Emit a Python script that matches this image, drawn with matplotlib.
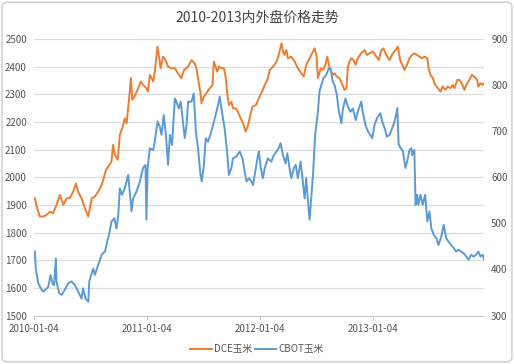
import matplotlib
matplotlib.use("Agg")
import matplotlib.pyplot as plt
from matplotlib.patches import FancyBboxPatch
import pandas as pd

plt.rcParams["font.family"] = ["Noto Sans CJK SC", "DejaVu Sans"]

TITLE = "2010-2013内外盘价格走势"
X_TICKS = ["2010-01-04", "2011-01-04", "2012-01-04", "2013-01-04"]
LEFT_TICKS = list(range(1500, 2501, 100))
RIGHT_TICKS = list(range(300, 901, 100))

# DCE corn (left axis)
dce_dates = [
    "2010-01-07", "2010-01-13", "2010-01-23", "2010-02-03", "2010-02-14", "2010-02-25",
    "2010-03-07", "2010-03-18", "2010-03-29", "2010-04-09", "2010-04-20", "2010-04-30",
    "2010-05-11", "2010-05-20", "2010-05-27", "2010-06-07", "2010-06-18", "2010-06-29",
    "2010-07-10", "2010-07-20", "2010-07-31", "2010-08-11", "2010-08-16", "2010-08-25",
    "2010-09-01", "2010-09-12", "2010-09-17", "2010-09-23", "2010-10-02", "2010-10-09",
    "2010-10-20", "2010-10-25", "2010-10-31", "2010-11-07", "2010-11-14", "2010-11-18",
    "2010-11-26", "2010-12-07", "2010-12-16", "2010-12-23", "2011-01-03", "2011-01-08",
    "2011-01-14", "2011-01-25", "2011-01-30", "2011-02-08", "2011-02-12", "2011-02-18",
    "2011-02-26", "2011-03-06", "2011-03-14", "2011-03-25", "2011-04-05", "2011-04-15",
    "2011-04-26", "2011-05-05", "2011-05-18", "2011-05-29", "2011-06-08", "2011-06-14",
    "2011-06-19", "2011-06-27", "2011-06-30", "2011-07-08", "2011-07-16", "2011-07-27",
    "2011-08-05", "2011-08-09", "2011-08-15", "2011-08-20", "2011-08-26", "2011-09-03",
    "2011-09-11", "2011-09-17", "2011-09-22", "2011-09-27", "2011-10-05", "2011-10-10",
    "2011-10-19", "2011-10-26", "2011-11-04", "2011-11-12", "2011-11-20", "2011-11-28",
    "2011-12-05", "2011-12-12", "2011-12-23", "2012-01-02", "2012-01-10", "2012-01-21",
    "2012-01-31", "2012-02-06", "2012-02-17", "2012-02-28", "2012-03-06", "2012-03-15",
    "2012-03-20", "2012-03-25", "2012-03-31", "2012-04-05", "2012-04-16", "2012-04-27",
    "2012-05-07", "2012-05-18", "2012-05-26", "2012-06-03", "2012-06-14", "2012-06-22",
    "2012-06-30", "2012-07-06", "2012-07-11", "2012-07-20", "2012-07-27", "2012-08-04",
    "2012-08-10", "2012-08-18", "2012-08-28", "2012-09-03", "2012-09-10", "2012-09-19",
    "2012-09-28", "2012-10-05", "2012-10-11", "2012-10-16", "2012-10-21", "2012-10-27",
    "2012-11-03", "2012-11-10", "2012-11-17", "2012-11-28", "2012-12-09", "2012-12-16",
    "2012-12-25", "2013-01-05", "2013-01-16", "2013-01-24", "2013-02-01", "2013-02-08",
    "2013-02-17", "2013-02-28", "2013-03-10", "2013-03-19", "2013-03-27", "2013-04-03",
    "2013-04-10", "2013-04-17", "2013-04-25", "2013-05-03", "2013-05-11", "2013-05-19",
    "2013-05-28", "2013-06-05", "2013-06-12", "2013-06-21", "2013-06-30", "2013-07-04",
    "2013-07-10", "2013-07-18", "2013-07-25", "2013-08-03", "2013-08-12", "2013-08-19",
    "2013-08-27", "2013-09-04", "2013-09-13", "2013-09-20", "2013-09-26", "2013-10-05",
    "2013-10-12", "2013-10-19", "2013-10-28", "2013-11-06", "2013-11-13", "2013-11-21",
    "2013-11-29", "2013-12-08", "2013-12-12", "2013-12-19", "2013-12-26", "2013-12-31",
]
dce_price = [
    1924, 1894, 1858, 1858, 1864, 1876,
    1870, 1900, 1936, 1900, 1924, 1924,
    1948, 1978, 1948, 1924, 1888, 1858,
    1924, 1930, 1948, 1972, 1990, 2026,
    2038, 2056, 2117, 2081, 2063, 2153,
    2189, 2213, 2195, 2273, 2358, 2280,
    2292, 2322, 2346, 2334, 2322, 2310,
    2370, 2346, 2382, 2472, 2442, 2394,
    2436, 2424, 2400, 2394, 2394, 2376,
    2358, 2388, 2400, 2424, 2412, 2394,
    2358, 2304, 2267, 2291, 2304, 2322,
    2334, 2418, 2400, 2382, 2400, 2394,
    2394, 2358, 2298, 2261, 2273, 2249,
    2249, 2237, 2213, 2195, 2165, 2189,
    2225, 2255, 2261, 2286, 2304, 2334,
    2358, 2388, 2400, 2418, 2442, 2484,
    2454, 2442, 2460, 2430, 2436, 2418,
    2394, 2376, 2364, 2406, 2430, 2448,
    2466, 2442, 2358, 2394, 2388, 2406,
    2436, 2394, 2370, 2376, 2364, 2358,
    2334, 2316, 2322, 2400, 2418, 2430,
    2424, 2406, 2430, 2448, 2460, 2442,
    2448, 2454, 2436, 2424, 2460, 2466,
    2442, 2424, 2448, 2460, 2472, 2424,
    2406, 2388, 2406, 2430, 2442, 2448,
    2442, 2436, 2430, 2436, 2430, 2394,
    2370, 2358, 2334, 2322, 2310, 2328,
    2316, 2328, 2322, 2334, 2322, 2352,
    2352, 2340, 2316, 2340, 2352, 2370,
    2364, 2352, 2328, 2340, 2334, 2340,
]

# CBOT corn (right axis)
cbot_dates = [
    "2010-01-07", "2010-01-10", "2010-01-18", "2010-01-29", "2010-02-03", "2010-02-14",
    "2010-02-19", "2010-02-27", "2010-03-05", "2010-03-10", "2010-03-16", "2010-03-18",
    "2010-03-27", "2010-04-04", "2010-04-14", "2010-04-25", "2010-05-06", "2010-05-17",
    "2010-05-27", "2010-06-07", "2010-06-12", "2010-06-20", "2010-06-29", "2010-07-02",
    "2010-07-10", "2010-07-15", "2010-07-20", "2010-07-31", "2010-08-11", "2010-08-22",
    "2010-08-29", "2010-09-04", "2010-09-12", "2010-09-21", "2010-09-28", "2010-10-04",
    "2010-10-09", "2010-10-16", "2010-10-25", "2010-11-05", "2010-11-10", "2010-11-16",
    "2010-11-21", "2010-12-02", "2010-12-13", "2010-12-23", "2010-12-31", "2011-01-03",
    "2011-01-07", "2011-01-14", "2011-01-25", "2011-01-30", "2011-02-08", "2011-02-15",
    "2011-02-21", "2011-02-28", "2011-03-07", "2011-03-14", "2011-03-20", "2011-03-27",
    "2011-04-05", "2011-04-10", "2011-04-18", "2011-04-24", "2011-05-02", "2011-05-07",
    "2011-05-13", "2011-05-18", "2011-05-29", "2011-06-05", "2011-06-12", "2011-06-19",
    "2011-06-27", "2011-07-01", "2011-07-08", "2011-07-14", "2011-07-21", "2011-07-29",
    "2011-08-07", "2011-08-15", "2011-08-23", "2011-08-28", "2011-09-06", "2011-09-13",
    "2011-09-21", "2011-09-27", "2011-10-05", "2011-10-10", "2011-10-21", "2011-11-01",
    "2011-11-10", "2011-11-17", "2011-11-23", "2011-12-01", "2011-12-09", "2011-12-14",
    "2011-12-23", "2011-12-30", "2012-01-02", "2012-01-08", "2012-01-15", "2012-01-21",
    "2012-01-31", "2012-02-11", "2012-02-19", "2012-02-28", "2012-03-06", "2012-03-12",
    "2012-03-20", "2012-03-28", "2012-04-03", "2012-04-10", "2012-04-16", "2012-04-24",
    "2012-04-30", "2012-05-07", "2012-05-16", "2012-05-23", "2012-05-29", "2012-06-03",
    "2012-06-09", "2012-06-14", "2012-06-20", "2012-06-25", "2012-07-02", "2012-07-11",
    "2012-07-16", "2012-07-22", "2012-07-29", "2012-08-07", "2012-08-15", "2012-08-21",
    "2012-08-28", "2012-09-03", "2012-09-10", "2012-09-17", "2012-09-25", "2012-09-30",
    "2012-10-08", "2012-10-16", "2012-10-24", "2012-11-01", "2012-11-10", "2012-11-17",
    "2012-11-28", "2012-12-03", "2012-12-12", "2012-12-20", "2012-12-27", "2013-01-03",
    "2013-01-10", "2013-01-18", "2013-01-29", "2013-02-04", "2013-02-12", "2013-02-19",
    "2013-02-28", "2013-03-08", "2013-03-16", "2013-03-25", "2013-03-29", "2013-04-03",
    "2013-04-12", "2013-04-20", "2013-04-28", "2013-05-03", "2013-05-09", "2013-05-12",
    "2013-05-14", "2013-05-19", "2013-05-23", "2013-05-28", "2013-06-01", "2013-06-08",
    "2013-06-15", "2013-06-23", "2013-06-30", "2013-07-07", "2013-07-13", "2013-07-21",
    "2013-07-29", "2013-08-05", "2013-08-14", "2013-08-22", "2013-08-30", "2013-09-06",
    "2013-09-15", "2013-09-24", "2013-10-01", "2013-10-09", "2013-10-17", "2013-10-26",
    "2013-11-03", "2013-11-10", "2013-11-19", "2013-11-27", "2013-12-05", "2013-12-12",
    "2013-12-19", "2013-12-26", "2013-12-31",
]
cbot_price = [
    439, 402, 370, 356, 352, 359,
    362, 388, 370, 366, 424, 374,
    348, 345, 356, 370, 374, 366,
    352, 337, 359, 337, 330, 374,
    392, 402, 388, 410, 432, 439,
    460, 475, 504, 511, 489, 518,
    576, 562, 576, 605, 569, 526,
    554, 569, 591, 620, 627, 508,
    620, 663, 659, 677, 721, 710,
    692, 735, 692, 627, 692, 670,
    771, 764, 749, 764, 714, 685,
    714, 764, 764, 782, 699, 663,
    605, 591, 627, 685, 677, 692,
    714, 735, 757, 775, 735, 706,
    656, 605, 620, 641, 645, 656,
    641, 612, 591, 598, 591, 583,
    620, 648, 656, 620, 598, 620,
    641, 634, 648, 656, 663, 674,
    648, 630, 652, 620, 598, 620,
    627, 598, 634, 591, 554, 598,
    547, 508, 562, 605, 692, 742,
    786, 800, 815, 822, 836, 836,
    807, 800, 779, 742, 717, 749,
    771, 753, 742, 749, 724, 742,
    764, 742, 713, 699, 692, 685,
    713, 728, 739, 721, 706, 688,
    692, 706, 721, 750, 672, 665,
    657, 620, 641, 659, 663, 648,
    656, 659, 540, 562, 540, 562,
    540, 562, 504, 526, 489, 475,
    468, 453, 471, 497, 468, 461,
    453, 446, 439, 443, 439, 435,
    428, 421, 432, 428, 432, 439,
    428, 432, 421,
]

ORANGE = "#ED7D31"
BLUE = "#5B9BD5"
GRID = "#DDDDDD"
TEXT = "#555555"

dce = pd.Series(dce_price, index=pd.to_datetime(dce_dates))
cbot = pd.Series(cbot_price, index=pd.to_datetime(cbot_dates))

fig = plt.figure(figsize=(5.14, 3.64), dpi=100)
# rounded outer frame
fig.patches.append(FancyBboxPatch((0.004, 0.006), 0.992, 0.988,
                                  boxstyle="round,pad=0,rounding_size=0.012",
                                  transform=fig.transFigure, facecolor="white",
                                  edgecolor="#CCCCCC", linewidth=1.0, zorder=-10))
ax = fig.add_axes([0.066, 0.133, 0.876, 0.760])
ax.patch.set_alpha(0)
ax2 = ax.twinx()

ax.plot(dce.index, dce.values, color=ORANGE, lw=1.4, label="DCE玉米", zorder=3)
ax2.plot(cbot.index, cbot.values, color=BLUE, lw=1.4, label="CBOT玉米", zorder=3)

ax.set_ylim(1500, 2500)
ax.set_yticks(LEFT_TICKS)
ax2.set_ylim(300, 900)
ax2.set_yticks(RIGHT_TICKS)
ax.set_xlim(pd.Timestamp("2010-01-04"), pd.Timestamp("2013-12-31"))

ax.set_xticks(pd.to_datetime(X_TICKS))
ax.set_xticklabels(X_TICKS)

ax.grid(axis="y", color=GRID, lw=0.9)
ax.set_axisbelow(True)
for a in (ax, ax2):
    for s in a.spines.values():
        s.set_visible(False)
ax.spines["bottom"].set_visible(True)
ax.spines["bottom"].set_color("#CCCCCC")

ax.tick_params(axis="y", length=0, labelsize=7, labelcolor=TEXT, pad=5)
ax2.tick_params(axis="y", length=0, labelsize=7, labelcolor=TEXT, pad=5)
ax.tick_params(axis="x", length=3, color="#CCCCCC", labelsize=7, labelcolor=TEXT, pad=3)

fig.text(0.5, 0.952, TITLE, ha="center", va="center", fontsize=10, color="#444444")

h1, l1 = ax.get_legend_handles_labels()
h2, l2 = ax2.get_legend_handles_labels()
fig.legend(h1 + h2, l1 + l2, loc="center", bbox_to_anchor=(0.5, 0.04), ncol=2,
           frameon=False, fontsize=7, labelcolor=TEXT, handlelength=2.2,
           handletextpad=0.2, columnspacing=0.3)

fig.savefig("out.png", dpi=100)
